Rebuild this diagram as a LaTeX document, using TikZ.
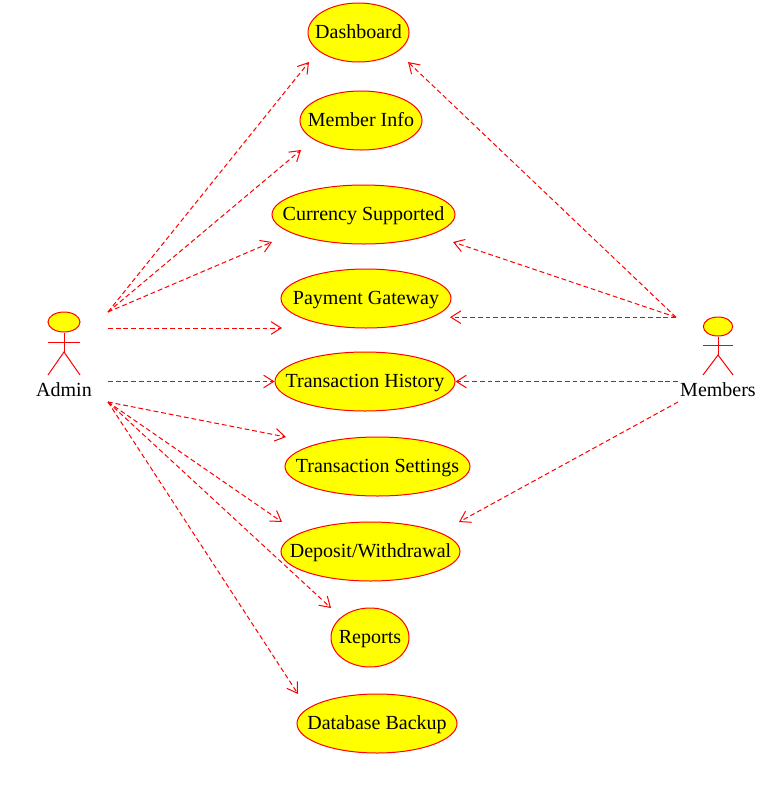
\documentclass[tikz,border=0pt]{standalone}
\usepackage{fontspec}
\setmainfont{Liberation Serif}
\usetikzlibrary{arrows.meta, shapes.geometric}

\definecolor{caseyellow}{RGB}{255,255,0}
\newcommand{\casetext}[1]{\makebox[0pt]{#1}}

\tikzset{
    usecase/.style={ellipse, draw=red, fill=caseyellow, line width=0.75pt, inner sep=0pt, minimum height=44.25pt, text height=10.5pt, text depth=1pt, font=\fontsize{15}{18}\selectfont},
    actorhead/.style={ellipse, draw=red, fill=caseyellow, line width=0.75pt, inner sep=0pt},
    actorline/.style={draw=red, line width=0.75pt},
    actorlabel/.style={inner sep=0pt, font=\fontsize{15}{18}\selectfont},
    link/.style={draw=red, line width=0.75pt, dash pattern=on 3.6pt off 2.2pt, -{Straight Barb[length=7.5pt,width=9.5pt,line width=0.75pt]}}
}

\begin{document}
\begin{tikzpicture}[x=0.75pt, y=-0.75pt]
    \useasboundingbox (0,0) rectangle (763,811);

    % Use cases
    \node[usecase, minimum width=75.75pt] (dashboard) at (358.5,32.5) {\casetext{Dashboard}};
    \node[usecase, minimum width=91.5pt] (memberinfo) at (361,120.5) {\casetext{Member Info}};
    \node[usecase, minimum width=137.25pt] (currency) at (363.5,214.5) {\casetext{Currency Supported}};
    \node[usecase, minimum width=127.5pt] (payment) at (366,298.5) {\casetext{Payment Gateway}};
    \node[usecase, minimum width=135pt] (history) at (365,381.5) {\casetext{Transaction History}};
    \node[usecase, minimum width=138.75pt] (settings) at (377.5,466.5) {\casetext{Transaction Settings}};
    \node[usecase, minimum width=134.25pt] (deposit) at (370.5,551.5) {\casetext{Deposit/Withdrawal}};
    \node[usecase, minimum width=58.5pt] (reports) at (370,637.5) {\casetext{Reports}};
    \node[usecase, minimum width=120pt] (database) at (377,723.5) {\casetext{Database Backup}};

    % Admin actor
    \node[actorhead, minimum width=24pt, minimum height=15pt] (adminhead) at (64,322) {};
    \coordinate (adminhip) at (64,352);
    \coordinate (adminarml) at (48,342);
    \coordinate (adminarmr) at (80,342);
    \coordinate (adminlegl) at (48,375);
    \coordinate (adminlegr) at (80,375);
    \node[actorlabel] (admin) at (64,390) {Admin};
    \draw[actorline] (adminhead) -- (adminhip);
    \draw[actorline] (adminarml) -- (adminarmr);
    \draw[actorline] (adminlegl) -- (adminhip) -- (adminlegr);

    % Members actor
    \node[actorhead, minimum width=22pt, minimum height=14.25pt] (membershead) at (718,326.5) {};
    \coordinate (membership) at (718,355);
    \coordinate (membersarml) at (703,345);
    \coordinate (membersarmr) at (733,345);
    \coordinate (memberslegl) at (703,375);
    \coordinate (memberslegr) at (733,375);
    \node[actorlabel] (members) at (718,390) {Members};
    \draw[actorline] (membershead) -- (membership);
    \draw[actorline] (membersarml) -- (membersarmr);
    \draw[actorline] (memberslegl) -- (membership) -- (memberslegr);

    % Free ends beside the actors
    \coordinate (adminup) at (108,312);
    \coordinate (adminmid) at (108,328);
    \coordinate (adminside) at (108,381.5);
    \coordinate (admindown) at (108,402);
    \coordinate (membersup) at (676,317.2);
    \coordinate (membersside) at (678,381.5);
    \coordinate (membersdown) at (678,402);

    % Free ends beside the use cases
    \coordinate (dashboardl) at (309,62);
    \coordinate (dashboardr) at (408,62);
    \coordinate (memberinfol) at (301,150);
    \coordinate (currencyl) at (272,242);
    \coordinate (currencyr) at (453,242);
    \coordinate (paymentl) at (282,328);
    \coordinate (paymentr) at (450,317.2);
    \coordinate (settingsl) at (286,437);
    \coordinate (depositl) at (282,522);
    \coordinate (depositr) at (459,522);
    \coordinate (reportsl) at (331,608);
    \coordinate (databasel) at (298,694);

    % Edges from Admin
    \draw[link] (adminup) -- (dashboardl);
    \draw[link] (adminup) -- (memberinfol);
    \draw[link] (adminup) -- (currencyl);
    \draw[link] (adminmid) -- (paymentl);
    \draw[link] (adminside) -- (history.west);
    \draw[link] (admindown) -- (settingsl);
    \draw[link] (admindown) -- (depositl);
    \draw[link] (admindown) -- (reportsl);
    \draw[link] (admindown) -- (databasel);

    % Edges from Members
    \draw[link] (membersup) -- (dashboardr);
    \draw[link] (membersup) -- (currencyr);
    \draw[link] (membersup) -- (paymentr);
    \draw[link] (membersside) -- (history.east);
    \draw[link] (membersdown) -- (depositr);
\end{tikzpicture}
\end{document}
